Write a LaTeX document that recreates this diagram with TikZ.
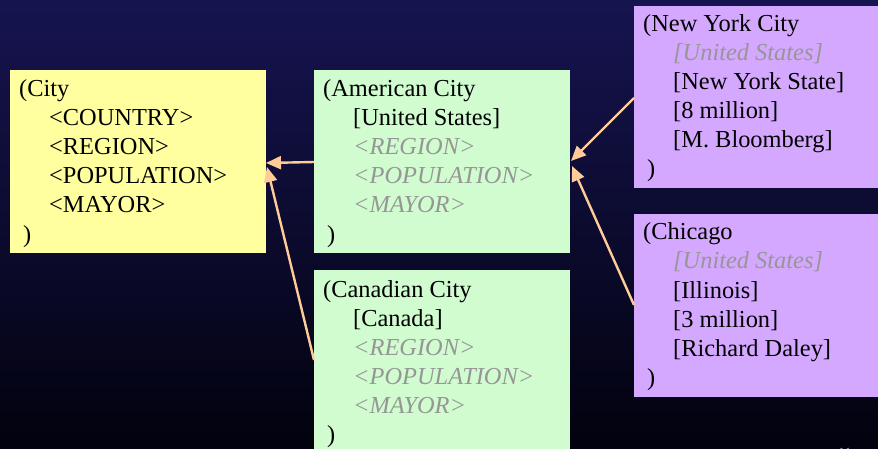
\documentclass[tikz,border=0pt]{standalone}
\usepackage{fontspec}
\setmainfont{Liberation Serif}
\usetikzlibrary{arrows.meta,calc}

\definecolor{cityyellow}{RGB}{255,255,160}
\definecolor{kindgreen}{RGB}{208,252,208}
\definecolor{itemviolet}{RGB}{212,168,255}
\definecolor{ghostgrey}{RGB}{150,150,150}
\definecolor{peach}{RGB}{255,204,153}
\definecolor{bgtop}{RGB}{22,20,80}
\definecolor{bgbottom}{RGB}{2,2,14}

\tikzset{
  card/.style={draw=none, anchor=north west, inner sep=0pt, minimum width=256pt},
  rowtext/.style={anchor=base west, inner sep=0pt, text=black, font=\fontsize{24.4}{29}\selectfont},
  ghost/.style={rowtext, text=ghostgrey, font=\fontsize{24.4}{29}\selectfont\itshape},
  link/.style={draw=peach, line width=2.4pt, -{Triangle[length=15pt,width=13pt]}},
}

\begin{document}
\begin{tikzpicture}[x=1pt,y=-1pt]
  \useasboundingbox (0,0) rectangle (878,449);
  \clip (0,0) rectangle (878,449);
  \shade[top color=bgtop, bottom color=bgbottom] (0,0) rectangle (878,449);

  % generic city
  \node[card, fill=cityyellow, minimum height=183pt] (city) at (10,70) {};
  \node[rowtext] (city0) at (19,97)  {(City};
  \node[rowtext] (city1) at (49,126) {<COUNTRY>};
  \node[rowtext] (city2) at (49,155) {<REGION>};
  \node[rowtext] (city3) at (49,184) {<POPULATION>};
  \node[rowtext] (city4) at (49,213) {<MAYOR>};
  \node[rowtext] (city5) at (23,242) {)};

  % american city
  \node[card, fill=kindgreen, minimum height=183pt] (amer) at (314,70) {};
  \node[rowtext] (amer0) at (323,97)  {(American City};
  \node[rowtext] (amer1) at (353,126) {[United States]};
  \node[ghost]   (amer2) at (353,155) {<REGION>};
  \node[ghost]   (amer3) at (353,184) {<POPULATION>};
  \node[ghost]   (amer4) at (353,213) {<MAYOR>};
  \node[rowtext] (amer5) at (327,242) {)};

  % canadian city
  \node[card, fill=kindgreen, minimum height=200pt] (cana) at (314,270) {};
  \node[rowtext] (cana0) at (323,297) {(Canadian City};
  \node[rowtext] (cana1) at (353,326) {[Canada]};
  \node[ghost]   (cana2) at (353,355) {<REGION>};
  \node[ghost]   (cana3) at (353,384) {<POPULATION>};
  \node[ghost]   (cana4) at (353,413) {<MAYOR>};
  \node[rowtext] (cana5) at (327,442) {)};

  % new york city
  \node[card, fill=itemviolet, minimum height=182pt, minimum width=260pt] (nyc) at (634,6) {};
  \node[rowtext] (nyc0) at (643,32)  {(New York City};
  \node[ghost]   (nyc1) at (673,61)  {[United States]};
  \node[rowtext] (nyc2) at (673,90)  {[New York State]};
  \node[rowtext] (nyc3) at (673,119) {[8 million]};
  \node[rowtext] (nyc4) at (673,148) {[M. Bloomberg]};
  \node[rowtext] (nyc5) at (647,177) {)};

  % chicago
  \node[card, fill=itemviolet, minimum height=183pt, minimum width=260pt] (chi) at (634,214) {};
  \node[rowtext] (chi0) at (643,240) {(Chicago};
  \node[ghost]   (chi1) at (673,269) {[United States]};
  \node[rowtext] (chi2) at (673,298) {[Illinois]};
  \node[rowtext] (chi3) at (673,327) {[3 million]};
  \node[rowtext] (chi4) at (673,356) {[Richard Daley]};
  \node[rowtext] (chi5) at (647,385) {)};

  % inheritance links
  \coordinate (cityIn)  at (266,163);
  \coordinate (cityIn2) at (267,167);
  \coordinate (amerIn)  at (571,161);
  \coordinate (amerIn2) at (572,166);
  \draw[link] (amer.west |- 0,162) -- (cityIn);
  \draw[link] ($(cana.north west)+(0,90)$) -- (cityIn2);
  \draw[link] ($(nyc.north west)+(0,92)$) -- (amerIn);
  \draw[link] ($(chi.north west)+(0,91)$) -- (amerIn2);

  % slide number
  \node[anchor=base west, inner sep=0pt, text=ghostgrey!80!white, font=\fontsize{14}{16}\selectfont] (pageno) at (838,457) {11};
\end{tikzpicture}
\end{document}
